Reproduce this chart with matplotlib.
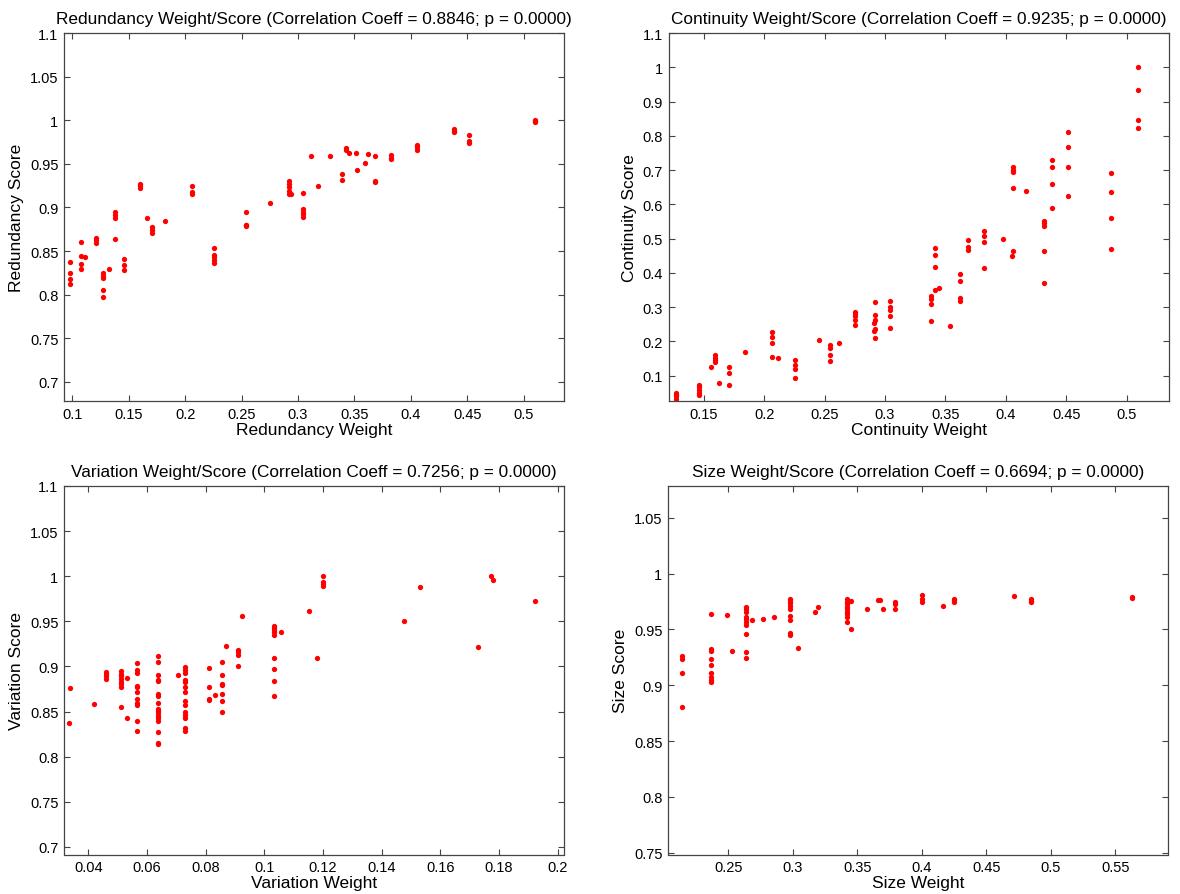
import matplotlib
matplotlib.use("Agg")
import matplotlib.pyplot as plt
from matplotlib.ticker import FuncFormatter
import numpy as np

plt.rcParams['font.family'] = ['Liberation Sans', 'DejaVu Sans']

# ---- Redundancy: weight columns and the scores observed at each weight ----
red_weight = [0.0976, 0.1076, 0.1112, 0.1209, 0.1277, 0.1324, 0.1380, 0.1460,
              0.1596, 0.1666, 0.1711, 0.1820, 0.2062, 0.2259, 0.2542, 0.2755,
              0.2917, 0.2941, 0.3044, 0.3115, 0.3180, 0.3286, 0.3390, 0.3425,
              0.3451, 0.3510, 0.3522, 0.3596, 0.3616, 0.3684, 0.3826, 0.4056,
              0.4381, 0.4519, 0.5097]
red_score = [[0.8376, 0.8247, 0.8186, 0.8120],
             [0.8606, 0.8445, 0.8353, 0.8292],
             [0.8430],
             [0.8656, 0.8628, 0.8590],
             [0.8247, 0.8216, 0.8193, 0.8055, 0.7979],
             [0.8296],
             [0.8943, 0.8915, 0.8877, 0.8644],
             [0.8407, 0.8338, 0.8280],
             [0.9267, 0.9248, 0.9225],
             [0.8874],
             [0.8778, 0.8743, 0.8713],
             [0.8846],
             [0.9244, 0.9172, 0.9153],
             [0.8541, 0.8453, 0.8427, 0.8396, 0.8369],
             [0.8943, 0.8805, 0.8797, 0.8789],
             [0.9053],
             [0.9298, 0.9267, 0.9236, 0.9190, 0.9160],
             [0.9156],
             [0.9164, 0.8980, 0.8950, 0.8923, 0.8892],
             [0.9585],
             [0.9244],
             [0.9585],
             [0.9382, 0.9310],
             [0.9683, 0.9657],
             [0.9630],
             [0.9630],
             [0.9431],
             [0.9511],
             [0.9615],
             [0.9592, 0.9305, 0.9287],
             [0.9603, 0.9573, 0.9554],
             [0.9718, 0.9688, 0.9661],
             [0.9898, 0.9878, 0.9860],
             [0.9833, 0.9760, 0.9737],
             [1.0000, 0.9990, 0.9980]]

# ---- Continuity ----
con_weight = [0.1272, 0.1459, 0.1560, 0.1597, 0.1630, 0.1713, 0.1840, 0.2066,
              0.2116, 0.2259, 0.2450, 0.2549, 0.2623, 0.2753, 0.2907, 0.2921,
              0.3040, 0.3385, 0.3418, 0.3445, 0.3542, 0.3625, 0.3685, 0.3818,
              0.3975, 0.4053, 0.4061, 0.4171, 0.4315, 0.4380, 0.4519, 0.4867,
              0.5096]
con_score = [[0.051, 0.045, 0.040, 0.031],
             [0.072, 0.066, 0.059, 0.051, 0.045],
             [0.127],
             [0.161, 0.152, 0.145, 0.140],
             [0.080],
             [0.127, 0.107, 0.074],
             [0.169],
             [0.229, 0.213, 0.195, 0.155],
             [0.151],
             [0.145, 0.131, 0.121, 0.093],
             [0.204],
             [0.190, 0.181, 0.161, 0.143],
             [0.195],
             [0.286, 0.280, 0.273, 0.262, 0.248],
             [0.253, 0.231],
             [0.316, 0.278, 0.263, 0.237, 0.211],
             [0.317, 0.302, 0.292, 0.275, 0.239],
             [0.333, 0.323, 0.309, 0.260],
             [0.472, 0.452, 0.416, 0.351],
             [0.355],
             [0.245],
             [0.397, 0.375, 0.326, 0.319],
             [0.496, 0.477, 0.467],
             [0.523, 0.508, 0.489, 0.413],
             [0.499],
             [0.448],
             [0.708, 0.701, 0.695, 0.647, 0.465],
             [0.638],
             [0.552, 0.545, 0.536, 0.465, 0.372],
             [0.730, 0.709, 0.660, 0.589],
             [0.812, 0.768, 0.708, 0.623],
             [0.691, 0.636, 0.559, 0.469],
             [1.000, 0.935, 0.846, 0.822]]

# ---- Variation ----
var_weight = [0.0337, 0.0334, 0.0421, 0.0462, 0.0510, 0.0533, 0.0565, 0.0639,
              0.0705, 0.0731, 0.0811, 0.0832, 0.0856, 0.0871, 0.0909, 0.0924,
              0.1034, 0.1058, 0.1152, 0.1181, 0.1199, 0.1476, 0.1530, 0.1730,
              0.1773, 0.1781, 0.1924]
var_score = [[0.8767],
             [0.8378],
             [0.8589],
             [0.8944, 0.8914, 0.8889, 0.8859],
             [0.8948, 0.8918, 0.8889, 0.8859, 0.8829, 0.8803, 0.8773, 0.8551],
             [0.8870, 0.8433],
             [0.9044, 0.8962, 0.8926, 0.8784, 0.8770, 0.8718, 0.8637, 0.8600,
              0.8578, 0.8396, 0.8284],
             [0.9118, 0.9051, 0.8903, 0.8851, 0.8837, 0.8692, 0.8673, 0.8600,
              0.8533, 0.8507, 0.8481, 0.8451, 0.8426, 0.8392, 0.8273, 0.8156,
              0.8137],
             [0.8907],
             [0.8989, 0.8962, 0.8933, 0.8851, 0.8829, 0.8778, 0.8718, 0.8618,
              0.8570, 0.8496, 0.8467, 0.8433, 0.8322, 0.8284],
             [0.8981, 0.8778, 0.8644, 0.8629],
             [0.8681],
             [0.9051, 0.8907, 0.8803, 0.8792, 0.8692, 0.8618, 0.8500],
             [0.9226],
             [0.9185, 0.9156, 0.9126, 0.9000],
             [0.9556],
             [0.9451, 0.9429, 0.9407, 0.9378, 0.9348, 0.9089, 0.8970, 0.8837,
              0.8673],
             [0.9385],
             [0.9618],
             [0.9089],
             [1.0000, 0.9940, 0.9914, 0.9889],
             [0.9503],
             [0.9885],
             [0.9218],
             [1.0000],
             [0.9963],
             [0.9726]]

# ---- Size ----
size_weight = [0.2138, 0.2364, 0.2486, 0.2530, 0.2636, 0.2684, 0.2770, 0.2853,
               0.2974, 0.3036, 0.3171, 0.3191, 0.3416, 0.3450, 0.3576, 0.3661,
               0.3674, 0.3700, 0.3791, 0.4002, 0.4160, 0.4250, 0.4711, 0.4845,
               0.5628]
size_score = [[0.9259, 0.9232, 0.9107, 0.8804],
              [0.9634, 0.9328, 0.9306, 0.9238, 0.9185, 0.9110, 0.9069, 0.9045,
               0.9030],
              [0.9625],
              [0.9306],
              [0.9703, 0.9679, 0.9654, 0.9610, 0.9589, 0.9569, 0.9538, 0.9462,
               0.9301, 0.9241],
              [0.9583],
              [0.9596],
              [0.9613],
              [0.9774, 0.9753, 0.9732, 0.9708, 0.9685, 0.9619, 0.9580, 0.9470,
               0.9446],
              [0.9337],
              [0.9654],
              [0.9699],
              [0.9768, 0.9744, 0.9723, 0.9703, 0.9679, 0.9654, 0.9634, 0.9613,
               0.9565],
              [0.9753, 0.9506],
              [0.9685],
              [0.9759],
              [0.9759],
              [0.9685],
              [0.9744, 0.9723, 0.9685],
              [0.9804, 0.9768, 0.9747],
              [0.9708],
              [0.9774, 0.9759, 0.9747],
              [0.9797],
              [0.9768, 0.9753, 0.9744],
              [0.9788, 0.9777]]

titles = ["Redundancy Weight/Score (Correlation Coeff = 0.8846; p = 0.0000)",
          "Continuity Weight/Score (Correlation Coeff = 0.9235; p = 0.0000)",
          "Variation Weight/Score (Correlation Coeff = 0.7256; p = 0.0000)",
          "Size Weight/Score (Correlation Coeff = 0.6694; p = 0.0000)"]
xlabels = ["Redundancy Weight", "Continuity Weight", "Variation Weight", "Size Weight"]
ylabels = ["Redundancy Score", "Continuity Score", "Variation Score", "Size Score"]


def flatten(weights, scores):
    xs, ys = [], []
    for w, col in zip(weights, scores):
        for s in col:
            xs.append(w)
            ys.append(s)
    return np.array(xs), np.array(ys)


W, H = 1180, 895
fig = plt.figure(figsize=(W / 100, H / 100), dpi=100)

# axes boxes in pixels: left, right, top, bottom
boxes = [(64, 563.5, 34, 402), (668.5, 1169, 34, 402),
         (64, 563.5, 487, 855.5), (668, 1168.3, 487, 855.5)]

panels = [
    (red_weight, red_score,
     np.arange(0.1, 0.501, 0.05), np.arange(0.7, 1.101, 0.05)),
    (con_weight, con_score,
     np.arange(0.15, 0.501, 0.05), np.arange(0.1, 1.101, 0.1)),
    (var_weight, var_score,
     np.arange(0.04, 0.2001, 0.02), np.arange(0.7, 1.101, 0.05)),
    (size_weight, size_score,
     np.arange(0.25, 0.551, 0.05), np.arange(0.75, 1.051, 0.05)),
]

fmt = FuncFormatter(lambda v, p: "%g" % round(v, 4))

for i, (wts, scs, xt, yt) in enumerate(panels):
    l, r, t, b = boxes[i]
    ax = fig.add_axes([l / W, 1 - b / H, (r - l) / W, (b - t) / H])
    x, y = flatten(wts, scs)
    ax.plot(x, y, 'o', color='#ff0000', markersize=3.8, markeredgewidth=0)
    # limits padded around the data range
    ax.set_xlim(0.95 * x.min(), 1.05 * x.max())
    ax.set_ylim(0.85 * y.min(), 1.1 * y.max())
    ax.set_xticks(xt)
    ax.set_yticks(yt)
    ax.xaxis.set_major_formatter(fmt)
    ax.yaxis.set_major_formatter(fmt)
    ax.tick_params(direction='in', top=True, right=True, length=4, width=0.8,
                   labelsize=10.5, color='#444444', pad=4)
    for sp in ax.spines.values():
        sp.set_linewidth(0.9)
        sp.set_color('#444444')
    ax.set_title(titles[i], fontsize=12.4, pad=7)
    ax.set_xlabel(xlabels[i], fontsize=12.5, labelpad=1)
    ax.set_ylabel(ylabels[i], fontsize=12.5, labelpad=4)

fig.savefig("out.png", dpi=100)
